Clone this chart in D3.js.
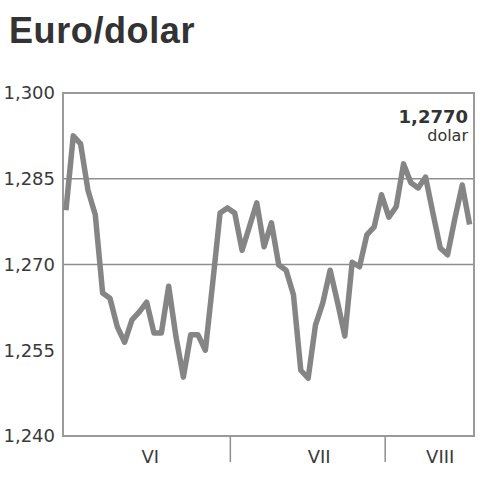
<!DOCTYPE html>
<html>
<head>
<meta charset="utf-8">
<script src="https://cdn.jsdelivr.net/npm/d3@7"></script>
<style>
  body { margin: 0; background: #fff; }
  svg { display: block; }
</style>
</head>
<body>
<svg id="chart" width="482" height="480"></svg>
<script>
// daily euro/dollar rate
const rates = [
  1.2795, 1.2925, 1.2911, 1.2830, 1.2787, 1.2650, 1.2641, 1.2591, 1.2564, 1.2603,
  1.2617, 1.2634, 1.2580, 1.2580, 1.2662, 1.2573, 1.2503, 1.2577, 1.2577, 1.2550,
  1.2668, 1.2790, 1.2799, 1.2790, 1.2725, 1.2766, 1.2808, 1.2731, 1.2773, 1.2699,
  1.2690, 1.2647, 1.2515, 1.2501, 1.2594, 1.2633, 1.2690, 1.2634, 1.2575, 1.2704,
  1.2696, 1.2752, 1.2766, 1.2822, 1.2783, 1.2801, 1.2876, 1.2843, 1.2834, 1.2853,
  1.2790, 1.2729, 1.2717, 1.2781, 1.2839, 1.2770
];
const yTicks = [1.240, 1.255, 1.270, 1.285, 1.300];
const gridTicks = [1.270, 1.285];
const months = ["VI", "VII", "VIII"];
const monthLabelPos = [11.5, 34.5, 51];   // day index where each label sits
const monthBreaks = [22.4, 43.5];          // day index of the month separators
const lastLabel = "1,2770";
const lastUnit = "dolar";

const svg = d3.select("#chart");
const mLeft = 63, mRight = 474, mTop = 93, mBottom = 436;

const x = d3.scaleLinear().domain([-0.4, rates.length - 0.4]).range([mLeft, mRight]);
const y = d3.scaleLinear().domain([1.240, 1.300]).range([mBottom, mTop]);
const fmt = d => d3.format(".3f")(d).replace(".", ",");

// title
svg.append("text")
  .attr("x", 9).attr("y", 43)
  .attr("font-family", "Liberation Sans, Arial, sans-serif")
  .attr("font-weight", "bold")
  .attr("font-size", 36)
  .attr("letter-spacing", 0.6)
  .attr("fill", "#333")
  .text("Euro/dolar");

// gridlines
svg.append("g").selectAll("line")
  .data(gridTicks)
  .join("line")
  .attr("x1", mLeft).attr("x2", mRight)
  .attr("y1", d => y(d)).attr("y2", d => y(d))
  .attr("stroke", "#8f8f8f").attr("stroke-width", 1.5);

// frame
svg.append("rect")
  .attr("x", mLeft).attr("y", mTop)
  .attr("width", mRight - mLeft).attr("height", mBottom - mTop)
  .attr("fill", "none")
  .attr("stroke", "#9a9a9a").attr("stroke-width", 2);

// y axis labels
const yAxis = svg.append("g")
  .attr("transform", `translate(${mLeft - 8},0)`)
  .call(d3.axisLeft(y).tickValues(yTicks).tickFormat(fmt).tickSize(0).tickPadding(0));
yAxis.select(".domain").remove();
yAxis.selectAll("text")
  .attr("font-family", "DejaVu Sans, sans-serif")
  .attr("font-size", 18)
  .attr("fill", "#3a3a3a");

// month separators + labels
svg.append("g").selectAll("line")
  .data(monthBreaks)
  .join("line")
  .attr("x1", d => x(d)).attr("x2", d => x(d))
  .attr("y1", mBottom).attr("y2", 462)
  .attr("stroke", "#8f8f8f").attr("stroke-width", 1.5);

svg.append("g").selectAll("text")
  .data(months)
  .join("text")
  .attr("x", (d, i) => x(monthLabelPos[i]))
  .attr("y", 463)
  .attr("text-anchor", "middle")
  .attr("font-family", "DejaVu Sans, sans-serif")
  .attr("font-size", 18)
  .attr("fill", "#3a3a3a")
  .text(d => d);

// the line
const line = d3.line()
  .x((d, i) => x(i))
  .y(d => y(d));

svg.append("path")
  .datum(rates)
  .attr("fill", "none")
  .attr("stroke", "#858585")
  .attr("stroke-width", 5.5)
  .attr("stroke-linejoin", "round")
  .attr("d", line);

// last value note
svg.append("text")
  .attr("x", 468).attr("y", 123)
  .attr("text-anchor", "end")
  .attr("font-family", "DejaVu Sans, sans-serif")
  .attr("font-weight", "bold")
  .attr("font-size", 18)
  .attr("fill", "#333")
  .text(lastLabel);
svg.append("text")
  .attr("x", 468).attr("y", 141)
  .attr("text-anchor", "end")
  .attr("font-family", "DejaVu Sans, sans-serif")
  .attr("font-size", 16)
  .attr("fill", "#333")
  .text(lastUnit);
</script>
</body>
</html>
